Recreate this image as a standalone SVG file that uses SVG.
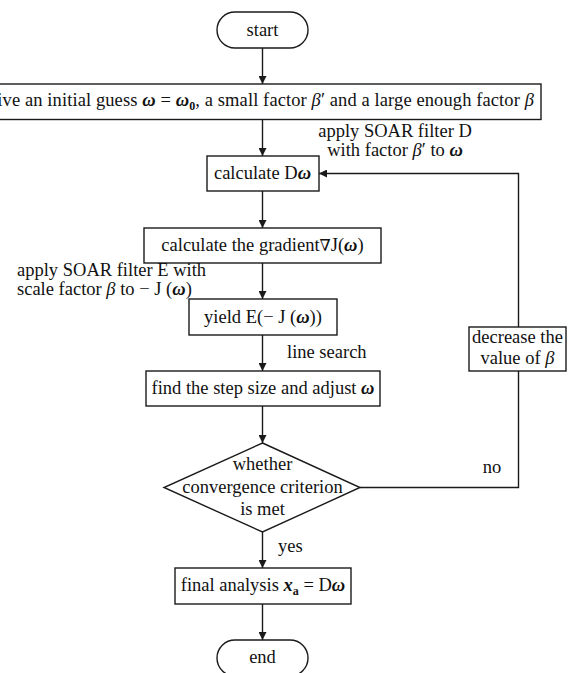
<svg xmlns="http://www.w3.org/2000/svg" width="575" height="673" viewBox="0 0 575 673">
<style>
.node rect, .node polygon {fill:#fff; stroke:#1a1a1a; stroke-width:1.4}
text {font-family:"Liberation Serif","Times New Roman",serif; font-size:18.5px; fill:#111}
.c {text-anchor:middle}
.e {text-anchor:end}
.bi {font-weight:bold; font-style:italic}
.i {font-style:italic}
.nab {font-family:"DejaVu Serif","Liberation Serif",serif; font-size:16px; font-weight:normal}
.conn path {stroke:#1a1a1a; stroke-width:1.4; fill:none}
.conn .a {marker-end:url(#arr)}
</style>
<defs>
<marker id="arr" viewBox="0 0 10 10" refX="10" refY="5" markerUnits="userSpaceOnUse" markerWidth="9" markerHeight="8" orient="auto">
<path d="M0,0 L10,5 L0,10 z" fill="#1a1a1a"/>
</marker>
</defs>
<rect width="575" height="673" fill="#fff"/>
<g id="connectors" class="conn">
<path class="a" d="M262.5,48 V84"/>
<path class="a" d="M262.5,119.5 V156"/>
<path class="a" d="M262.5,191 V228"/>
<path class="a" d="M262.5,263 V299"/>
<path class="a" d="M262.5,335 V371"/>
<path class="a" d="M262.5,406 V443"/>
<path class="a" d="M262.5,532 V568"/>
<path class="a" d="M262.5,604 V640"/>
<path d="M360,487.5 H518.5 V371"/>
<path class="a" d="M518.5,327 V173.5 H319"/>
</g>
<g id="start" class="node">
<rect x="217" y="12" width="91" height="36" rx="18"/>
<text class="c" x="262.5" y="36">start</text>
</g>
<g id="init" class="node">
<rect x="-16" y="84" width="557" height="35.5"/>
<text class="e" x="534" y="106" letter-spacing="0.1">give an initial guess <tspan class="bi">ω</tspan> = <tspan class="bi">ω</tspan><tspan font-weight="bold" font-size="12" dy="4">0</tspan><tspan dy="-4">, a small factor </tspan><tspan class="i">β</tspan>′ and a large enough factor <tspan class="i">β</tspan></text>
</g>
<g id="label-d">
<text class="c" x="395" y="137">apply SOAR filter D</text>
<text class="c" x="395" y="156">with factor <tspan class="i">β</tspan>′ to <tspan class="bi">ω</tspan></text>
</g>
<g id="calcD" class="node">
<rect x="207" y="156" width="112" height="35"/>
<text class="c" x="262.5" y="179">calculate D<tspan class="bi">ω</tspan></text>
</g>
<g id="gradient" class="node">
<rect x="144" y="228" width="237" height="35"/>
<text class="c" x="262.5" y="251">calculate the gradient<tspan class="nab">∇</tspan>J(<tspan class="bi">ω</tspan>)</text>
</g>
<g id="label-e">
<text x="17" y="276">apply SOAR filter E with</text>
<text x="17" y="295">scale factor <tspan class="i">β</tspan> to − J (<tspan class="bi">ω</tspan>)</text>
</g>
<g id="yield" class="node">
<rect x="189" y="299" width="148" height="36"/>
<text class="c" x="263" y="323">yield E(− J (<tspan class="bi">ω</tspan>))</text>
</g>
<g id="label-ls">
<text x="287" y="358">line search</text>
</g>
<g id="step" class="node">
<rect x="146" y="371" width="234" height="35"/>
<text class="c" x="263" y="394">find the step size and adjust <tspan class="bi">ω</tspan></text>
</g>
<g id="decision" class="node">
<polygon points="262.5,443 360,487.5 262.5,532 164,487.5"/>
<text class="c" x="262.5" y="470">whether</text>
<text class="c" x="262.5" y="493">convergence criterion</text>
<text class="c" x="262.5" y="515">is met</text>
</g>
<g id="decrease" class="node">
<rect x="469" y="327" width="97" height="44"/>
<text class="c" x="517.5" y="343">decrease the</text>
<text class="c" x="517.5" y="364">value of <tspan class="i">β</tspan></text>
</g>
<g id="label-no">
<text class="c" x="492" y="473">no</text>
</g>
<g id="label-yes">
<text x="278" y="552">yes</text>
</g>
<g id="final" class="node">
<rect x="175" y="568" width="176" height="36"/>
<text class="c" x="263" y="591">final analysis <tspan class="bi">x</tspan><tspan font-weight="bold" font-size="12" dy="4">a</tspan><tspan dy="-4"> = D</tspan><tspan class="bi">ω</tspan></text>
</g>
<g id="end" class="node">
<rect x="217" y="640" width="91" height="36" rx="18"/>
<text class="c" x="262.5" y="663">end</text>
</g>
</svg>
